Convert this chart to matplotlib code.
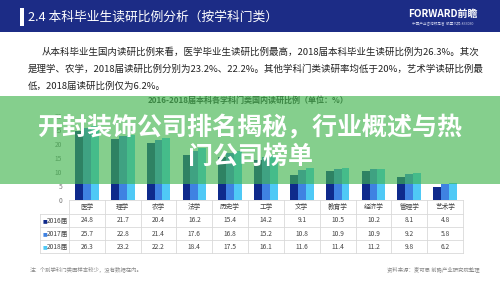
import matplotlib
matplotlib.use("Agg")
import matplotlib.pyplot as plt
from matplotlib.patches import Rectangle
import numpy as np

plt.rcParams['font.family'] = ['Noto Sans CJK SC', 'DejaVu Sans']

categories = ['医学', '理学', '农学', '法学', '历史学', '工学', '文学', '教育学', '经济学', '管理学', '艺术学']
series_names = ['2016届', '2017届', '2018届']
v2016 = [24.8, 21.7, 20.4, 16.2, 15.4, 14.2, 9.1, 10.5, 10.2, 8.1, 4.8]
v2017 = [25.7, 22.8, 21.4, 17.6, 16.8, 15.2, 10.8, 10.9, 10.9, 9.2, 5.8]
v2018 = [26.3, 23.2, 22.2, 18.4, 17.5, 16.1, 11.6, 11.4, 11.2, 9.8, 6.2]
yticks = [0, 5, 10, 15, 20, 25, 30]
colors = ['#0f2a8c', '#3f82e2', '#4fc9f6']

W, H = 500, 281
fig = plt.figure(figsize=(5, 2.81), dpi=100)
fig.patch.set_facecolor('white')

def fx(px):
    return px / W

def fy(py):
    return 1 - py / H

# header
fig.patches.append(Rectangle((0, fy(32)), 1, 32 / H, transform=fig.transFigure,
                             facecolor='#1c2c86', edgecolor='none', zorder=1))
fig.patches.append(Rectangle((fx(20), fy(26)), 4 / W, 18 / H, transform=fig.transFigure,
                             facecolor='white', edgecolor='none', zorder=2))
fig.text(fx(28), fy(17), '2.4 本科毕业生读研比例分析（按学科门类）', color='white',
         fontsize=9.2, va='center', ha='left', zorder=3)
fig.text(fx(443), fy(14), 'FORWARD前瞻', color='white', fontsize=7.2, fontweight='bold',
         va='center', ha='center', zorder=3)
fig.text(fx(443), fy(24), '中国产业咨询领导者  股票代码:833030', color='#c8cce8', fontsize=2.6,
         va='center', ha='center', zorder=3)

# paragraph
para = ['从本科毕业生国内读研比例来看，医学毕业生读研比例最高，2018届本科毕业生读研比例为26.3%。其次',
        '是理学、农学，2018届读研比例分别为23.2%、22.2%。其他学科门类读研率均低于20%，艺术学读研比例最',
        '低，2018届读研比例仅为6.2%。']
fig.text(fx(42), fy(52), para[0], fontsize=6.8, color='#222222', va='center', ha='left')
fig.text(fx(28), fy(69), para[1], fontsize=6.8, color='#222222', va='center', ha='left')
fig.text(fx(28), fy(86), para[2], fontsize=6.8, color='#222222', va='center', ha='left')

fig.text(fx(248), fy(100), '2016-2018届本科各学科门类国内读研比例（单位：%）', fontsize=5.8,
         color='#333333', fontweight='bold', va='center', ha='center')

# bar axes
ax = fig.add_axes([fx(69), fy(200), (463 - 69) / W, 84 / H])
x = np.arange(len(categories))
bw = 0.22
for k, vals in enumerate([v2016, v2017, v2018]):
    ax.bar(x + (k - 1) * bw, vals, width=bw, color=colors[k], zorder=2)
ax.set_xlim(-0.5, len(categories) - 0.5)
ax.set_ylim(0, 30)
ax.set_yticks(yticks)
ax.set_yticklabels([str(t) for t in yticks], fontsize=4.8, color='#777777')
ax.tick_params(axis='y', length=0, pad=5)
ax.set_xticks([])
for s in ax.spines.values():
    s.set_visible(False)
ax.patch.set_alpha(0)

# table under axes, in axes-x data coords and pixel-based y
tr = ax.get_xaxis_transform()
ax_h_px = 84.0
def ay(py):
    return (200 - py) / ax_h_px

grid_c = '#d9d9d9'
row_bounds = [200, 214, 227, 240, 253]
label_left = -0.5 - 29 / 35.8
ax.plot([-0.5, 10.5], [ay(200), ay(200)], transform=tr, color=grid_c, lw=0.6, clip_on=False)
for yb in row_bounds[1:]:
    ax.plot([label_left, 10.5], [ay(yb), ay(yb)], transform=tr, color=grid_c, lw=0.6, clip_on=False)
for i in range(len(categories) + 1):
    xv = i - 0.5
    ax.plot([xv, xv], [ay(200), ay(253)], transform=tr, color=grid_c, lw=0.6, clip_on=False)
ax.plot([label_left, label_left], [ay(214), ay(253)], transform=tr, color=grid_c, lw=0.6, clip_on=False)

for i, c in enumerate(categories):
    ax.text(i, ay(207), c, transform=tr, fontsize=4.8, color='#444444', ha='center', va='center')
for r, vals in enumerate([v2016, v2017, v2018]):
    yc = ay((row_bounds[r + 1] + row_bounds[r + 2]) / 2)
    for i, v in enumerate(vals):
        ax.text(i, yc, f'{v:.1f}', transform=tr, fontsize=4.8, color='#444444', ha='center', va='center')
    ax.text(label_left + 0.06, yc, '■', transform=tr, fontsize=3.6, color=colors[r],
            ha='left', va='center', family='DejaVu Sans')
    ax.text(label_left + 0.2, yc, series_names[r], transform=tr, fontsize=4.8, color='#444444',
            ha='left', va='center')

fig.text(fx(30), fy(269), '注：个别学科门类因样本较少，没有数据在内。', fontsize=3.9, color='#888888',
         ha='left', va='center')
fig.text(fx(480), fy(269), '资料来源：麦可思 前瞻产业研究院整理', fontsize=3.9, color='#888888',
         ha='right', va='center')

# green overlay band
fig.patches.append(Rectangle((0, fy(184)), 1, 88 / H, transform=fig.transFigure,
                             facecolor=(64 / 255, 181 / 255, 77 / 255), alpha=0.64,
                             edgecolor='none', zorder=5))
fig.text(0.5, fy(127), '开封装饰公司排名揭秘，行业概述与热', fontsize=18.0, fontweight='bold',
         color='white', ha='center', va='center', zorder=6)
fig.text(0.5, fy(157), '门公司榜单', fontsize=18.0, fontweight='bold',
         color='white', ha='center', va='center', zorder=6)

fig.savefig('out.png', dpi=100, facecolor='white')
